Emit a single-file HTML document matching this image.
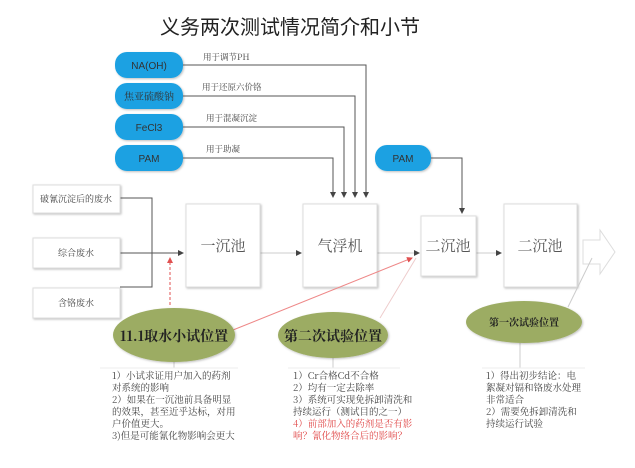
<!DOCTYPE html>
<html><head><meta charset="utf-8"><style>
html,body{margin:0;padding:0;background:#fff;}
body{width:635px;height:468px;overflow:hidden;position:relative;font-family:"Liberation Sans","Noto Serif CJK SC","Noto Sans CJK SC",sans-serif;}
.t{position:absolute;font-family:"Noto Serif CJK SC","Noto Sans CJK SC",serif;font-size:9.5px;color:#444;line-height:12px;}
</style></head><body>
<svg width="635" height="468" style="position:absolute;left:0;top:0">
<defs>
<marker id="a" markerWidth="6" markerHeight="6" refX="5" refY="3" orient="auto"><path d="M0,0 L6,3 L0,6z" fill="#444"/></marker>
<marker id="r" markerWidth="6" markerHeight="6" refX="5" refY="3" orient="auto"><path d="M0,0 L6,3 L0,6z" fill="#e05050"/></marker>
<filter id="s"><feDropShadow dx="1" dy="1" stdDeviation="1" flood-opacity="0.25"/></filter>
</defs>
<text x="290" y="34" font-size="20" text-anchor="middle" fill="#222" font-family="Noto Sans CJK SC,sans-serif">义务两次测试情况简介和小节</text>
<g fill="#1ba1e2" filter="url(#s)">
<rect x="115" y="52" width="68" height="26" rx="12"/>
<rect x="115" y="83" width="68" height="26" rx="12"/>
<rect x="115" y="114" width="68" height="26" rx="12"/>
<rect x="115" y="145" width="68" height="26" rx="12"/>
<rect x="375" y="145" width="56" height="26" rx="12"/>
</g>
<g font-size="10" fill="#333" text-anchor="middle">
<text x="149" y="69">NA(OH)</text>
<text x="149" y="100" font-family="Noto Serif CJK SC,serif">焦亚硫酸钠</text>
<text x="149" y="131">FeCl3</text>
<text x="149" y="162">PAM</text>
<text x="403" y="162">PAM</text>
</g>
<g font-size="8.5" fill="#444" font-family="Noto Serif CJK SC,serif">
<text x="203" y="60">用于调节PH</text>
<text x="202" y="90">用于还原六价铬</text>
<text x="206" y="121">用于混凝沉淀</text>
<text x="206" y="152">用于助凝</text>
</g>
<g stroke="#555" fill="none" stroke-width="1">
<path d="M183,65 H366 V197" marker-end="url(#a)"/>
<path d="M183,96 H355 V197" marker-end="url(#a)"/>
<path d="M183,127 H344 V197" marker-end="url(#a)"/>
<path d="M183,158 H333 V197" marker-end="url(#a)"/>
<path d="M431,158 H462 V213" marker-end="url(#a)"/>
<path d="M120,198 H152 V287 H120"/>
<path d="M120,253 H183" marker-end="url(#a)"/>
<path d="M260,253 H301" stroke="#ccc" marker-end="url(#a)"/>
<path d="M377,253 H419" stroke="#ccc" marker-end="url(#a)"/>
<path d="M476,253 H501" stroke="#ccc" marker-end="url(#a)"/>
</g>
<g fill="#fff" stroke="#ddd" filter="url(#s)">
<rect x="33" y="185" width="87" height="28"/>
<rect x="33" y="238" width="87" height="30"/>
<rect x="33" y="288" width="87" height="30"/>
<rect x="186" y="204" width="74" height="83"/>
<rect x="303" y="204" width="74" height="83"/>
<rect x="421" y="216" width="55" height="60"/>
<rect x="504" y="204" width="73" height="83"/>
</g>
<path d="M583,240 H600 V230 L615,252 L600,274 V264 H583 Z" fill="#fff" stroke="#ddd"/>
<g font-size="9" fill="#444" text-anchor="middle" font-family="Noto Serif CJK SC,serif">
<text x="76" y="202">破氰沉淀后的废水</text>
<text x="76" y="256">综合废水</text>
<text x="76" y="306">含铬废水</text>
</g>
<g font-size="15" fill="#555" text-anchor="middle" font-family="Noto Serif CJK SC,serif">
<text x="223" y="251">一沉池</text>
<text x="340" y="251">气浮机</text>
<text x="448" y="251">二沉池</text>
<text x="540" y="251">二沉池</text>
</g>
<path d="M170,305 V258" stroke="#e05050" stroke-dasharray="3,2" fill="none" marker-end="url(#r)"/>
<path d="M233,330 L412,258" stroke="#e88" fill="none" marker-end="url(#r)"/>
<path d="M380,318 L416,258" stroke="#ecc" fill="none"/>
<path d="M568,307 L592,258" stroke="#ccc" fill="none"/>
<path d="M174,362 V368 M333,357 V368 M520,343 V368" stroke="#ccc"/>
<path d="M100,368 H238 M288,368 H400 M482,368 H585" stroke="#eee"/>
<g fill="#9cac64" filter="url(#s)">
<ellipse cx="174" cy="335" rx="61" ry="27"/>
<ellipse cx="333" cy="335" rx="55" ry="23"/>
<ellipse cx="524" cy="322" rx="58" ry="21"/>
</g>
<g text-anchor="middle" fill="#222" font-family="Noto Serif CJK SC,serif" font-weight="bold">
<text x="174" y="341" font-size="14">11.1取水小试位置</text>
<text x="333" y="341" font-size="14">第二次试验位置</text>
<text x="524" y="326" font-size="10">第一次试验位置</text>
</g>
</svg>
<div class="t" style="left:112px;top:369px;width:135px">1）小试求证用户加入的药剂<br>对系统的影响<br>2）如果在一沉池前具备明显<br>的效果，甚至近乎达标，对用<br>户价值更大。<br>3)但是可能氰化物影响会更大</div>
<div class="t" style="left:293px;top:369px;width:140px">1）Cr合格Cd不合格<br>2）均有一定去除率<br>3）系统可实现免拆卸清洗和<br>持续运行（测试目的之一）<br><span style="color:#e04848">4）前部加入的药剂是否有影<br>响？氰化物络合后的影响？</span></div>
<div class="t" style="left:486px;top:369px;width:120px">1）得出初步结论：电<br>絮凝对镉和铬废水处理<br>非常适合<br>2）需要免拆卸清洗和<br>持续运行试验</div>
</body></html>
